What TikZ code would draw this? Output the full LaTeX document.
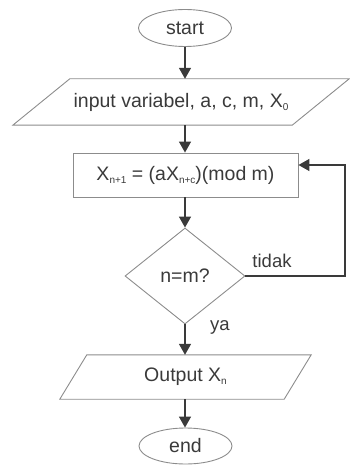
\documentclass[tikz,border=0pt]{standalone}
\usepackage{fontspec}
\setmainfont{Liberation Sans}
\usetikzlibrary{shapes.geometric,arrows.meta}
\definecolor{ink}{HTML}{3A3A3A}
\definecolor{edge}{HTML}{8C8C8C}
\newcommand{\sbs}[1]{\raisebox{-3pt}{\fontsize{10}{10}\selectfont #1}}
\tikzset{
  every node/.style={text=ink, font=\fontsize{19.5}{22}\selectfont},
  term/.style={ellipse, draw=edge, line width=0.9pt, minimum width=93pt, minimum height=37pt, inner sep=0pt},
  iobox/.style={rectangle, inner sep=0pt},
  procbox/.style={rectangle, draw=edge, line width=0.9pt, minimum width=225pt, minimum height=44pt, inner sep=0pt},
  decbox/.style={diamond, draw=edge, line width=0.9pt, minimum width=120pt, minimum height=96pt, inner sep=0pt},
  iooutline/.style={draw=edge, line width=0.9pt},
  flow/.style={draw=ink, line width=1.5pt, -{Triangle[length=11pt,width=12pt]}},
  lbl/.style={font=\fontsize{18.5}{20}\selectfont},
}
\begin{document}
\begin{tikzpicture}[x=1pt,y=-1pt]
\useasboundingbox (0,0) rectangle (349,465);
\node[term] (start) at (185,28) {start};
\node[iobox, minimum width=336pt, minimum height=46pt] (in) at (181,102) {input variabel, a, c, m, X\sbs{0}};
\draw[iooutline] ([xshift=57pt]in.north west) -- (in.north east) -- ([xshift=-57pt]in.south east) -- (in.south west) -- cycle;
\node[procbox] (proc) at (185.5,175) {X\sbs{n+1} = (aX\sbs{n+c})(mod m)};
\node[decbox] (dec) at (185,276) {n=m?};
\node[iobox, minimum width=251pt, minimum height=44pt] (out) at (185.5,377) {Output X\sbs{n}};
\draw[iooutline] ([xshift=27pt]out.north west) -- (out.north east) -- ([xshift=-27pt]out.south east) -- (out.south west) -- cycle;
\node[term, minimum height=36pt] (end) at (185.5,446) {end};
\coordinate (fb) at (345,165);
\draw[flow] (start.south) -- (start.south |- in.north);
\draw[flow] (start.south |- in.south) -- (start.south |- proc.north);
\draw[flow] (proc.south -| dec.north) -- (dec.north);
\draw[flow] (dec.south) -- (dec.south |- out.north);
\draw[flow] (dec.south |- out.south) -- (dec.south |- end.north);
\draw[flow] (dec.east) -| (fb) -- (fb -| proc.east);
\node[lbl] (tidak) at (272,261) {tidak};
\node[lbl] (ya) at (220,327) {ya};
\end{tikzpicture}
\end{document}
